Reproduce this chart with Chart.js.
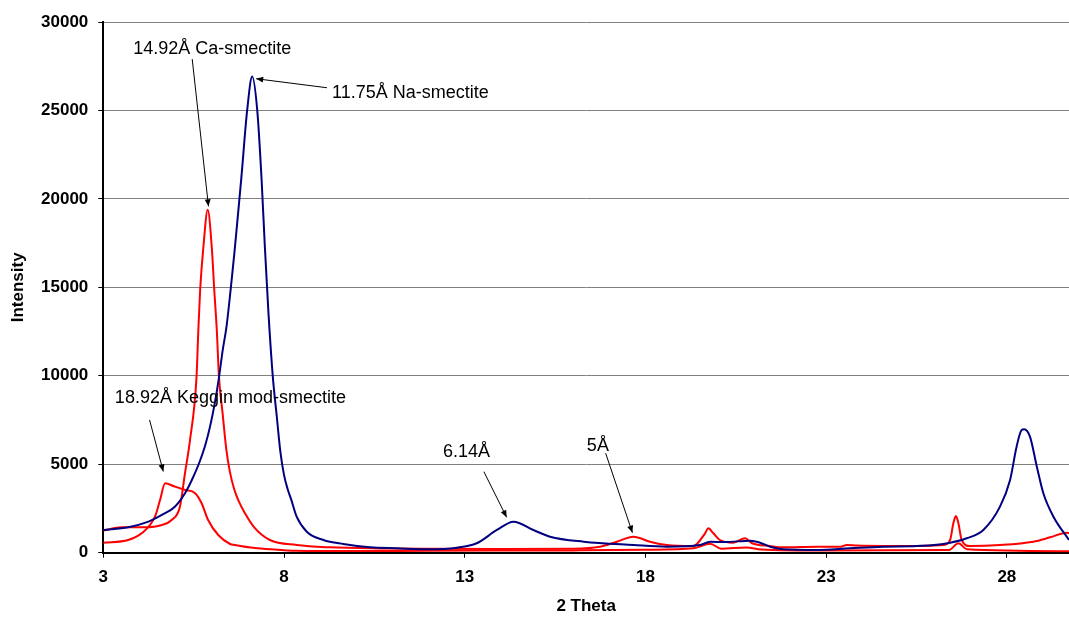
<!DOCTYPE html>
<html>
<head>
<meta charset="utf-8">
<script src="https://cdn.jsdelivr.net/npm/chart.js@4.4.1/dist/chart.umd.min.js"></script>
<style>
  body { margin: 0; background: #fff; }
  #wrap { width: 1069px; height: 617px; position: relative; }
</style>
</head>
<body>
<div id="wrap"><canvas id="xrdChart"></canvas></div>
<script>
// 2 theta ticks and intensity axis
const xTicks = [3, 8, 13, 18, 23, 28];
const yMax = 30000;

// Na-smectite (blue)
const naTheta = [3.0, 3.69, 4.25, 4.62, 4.98, 5.26, 5.45, 5.65, 5.81, 5.95, 6.08, 6.2, 6.3, 6.41, 6.53, 6.63, 6.73, 6.82, 6.98, 7.12, 7.26, 7.38, 7.47, 7.57, 7.69, 7.8, 7.9, 8.0, 8.1, 8.2, 8.35, 8.63, 9.09, 9.64, 10.38, 11.12, 12.04, 12.78, 13.33, 13.89, 14.35, 14.9, 15.36, 16.29, 17.67, 18.59, 19.51, 19.79, 20.2, 20.9, 21.17, 21.45, 21.82, 22.74, 23.66, 24.58, 25.51, 26.24, 26.89, 27.35, 27.81, 28.09, 28.27, 28.41, 28.48, 28.64, 28.83, 29.01, 29.29, 29.72];
const naIntensity = [1284, 1437, 1753, 2132, 2600, 3360, 4112, 5056, 6000, 7100, 8400, 9900, 11400, 12800, 15000, 17000, 19200, 21200, 25000, 26920, 25000, 21080, 17300, 13540, 9955, 7700, 5700, 4400, 3600, 3000, 2036, 1188, 718, 492, 305, 249, 192, 283, 532, 1284, 1753, 1284, 905, 622, 435, 340, 435, 622, 600, 680, 566, 340, 192, 153, 249, 340, 379, 492, 815, 1284, 2602, 4112, 5995, 6940, 6980, 6561, 4864, 3360, 2036, 718];

// Ca-smectite (red)
const caTheta = [3.0, 3.51, 4.15, 4.62, 4.89, 5.12, 5.26, 5.4, 5.58, 5.63, 5.68, 5.77, 5.89, 6.0, 6.07, 6.14, 6.2, 6.3, 6.4, 6.5, 6.62, 6.75, 6.9, 7.17, 7.61, 8.35, 9.27, 10.66, 12.0, 14.0, 16.0, 16.74, 17.21, 17.67, 18.13, 18.59, 19.33, 19.65, 19.74, 19.88, 20.06, 20.43, 20.76, 20.95, 21.45, 21.82, 22.74, 23.4, 23.57, 23.85, 24.58, 25.51, 26.24, 26.43, 26.52, 26.59, 26.66, 26.75, 26.98, 27.81, 28.73, 29.2, 29.66, 29.72];
const caIntensity = [1250, 1437, 1437, 1567, 1850, 2600, 4490, 6374, 9955, 12600, 14860, 17300, 19383, 17300, 14860, 12600, 9955, 7900, 5900, 4600, 3600, 2900, 2300, 1450, 718, 435, 305, 240, 220, 215, 230, 340, 622, 905, 622, 435, 380, 1097, 1380, 1097, 718, 566, 815, 532, 379, 305, 340, 340, 435, 400, 379, 379, 435, 718, 1663, 2076, 1663, 718, 379, 435, 622, 870, 1131, 1100];

// Keggin modified smectite (red)
const kegTheta = [3.0, 3.69, 4.06, 4.43, 4.57, 4.71, 4.98, 5.26, 5.54, 5.72, 5.9, 6.18, 6.51, 6.64, 7.2, 7.43, 8.35, 9.9, 12.0, 16.0, 18.0, 19.33, 19.79, 20.1, 20.8, 21.2, 23.0, 26.4, 26.66, 26.9, 29.72];
const kegIntensity = [566, 718, 1097, 2036, 2980, 3925, 3733, 3546, 3360, 2794, 1850, 1000, 492, 435, 260, 230, 113, 90, 110, 130, 160, 250, 500, 230, 300, 180, 120, 150, 530, 190, 80];

// peak labels with arrows (data coordinates)
const notes = [
  { text: "14.92Å Ca-smectite", x: 3.83, y: 28190, from: [5.46, 27907], to: [5.91, 19581] },
  { text: "11.75Å Na-smectite", x: 9.33, y: 25690, from: [9.19, 26283], to: [7.23, 26793] },
  { text: "18.92Å Keggin mod-smectite", x: 3.32, y: 8450, from: [4.28, 7505], to: [4.66, 4593] },
  { text: "6.14Å", x: 12.4, y: 5396, from: [13.53, 4581], to: [14.16, 2002] },
  { text: "5Å", x: 16.38, y: 5769, from: [16.9, 5622], to: [17.64, 1131] }
];

const fontFamily = "'Liberation Sans', Arial, sans-serif";

function toPoints(xs, ys) {
  return xs.map((x, i) => ({ x: x, y: ys[i] }));
}

const notesPlugin = {
  id: "notes",
  afterDatasetsDraw(chart) {
    const ctx = chart.ctx;
    const xs = chart.scales.x;
    const ys = chart.scales.y;
    ctx.save();
    ctx.fillStyle = "#000";
    ctx.strokeStyle = "#000";
    ctx.lineWidth = 1;
    ctx.font = "18px " + fontFamily;
    ctx.textBaseline = "alphabetic";
    ctx.textAlign = "left";
    notes.forEach(n => {
      ctx.fillText(n.text, xs.getPixelForValue(n.x), ys.getPixelForValue(n.y));
      const x1 = xs.getPixelForValue(n.from[0]);
      const y1 = ys.getPixelForValue(n.from[1]);
      const x2 = xs.getPixelForValue(n.to[0]);
      const y2 = ys.getPixelForValue(n.to[1]);
      ctx.beginPath();
      ctx.moveTo(x1, y1);
      ctx.lineTo(x2, y2);
      ctx.stroke();
      // arrow head
      const ang = Math.atan2(y2 - y1, x2 - x1);
      ctx.beginPath();
      ctx.moveTo(x2, y2);
      ctx.lineTo(x2 - 7 * Math.cos(ang) + 3 * Math.sin(ang), y2 - 7 * Math.sin(ang) - 3 * Math.cos(ang));
      ctx.lineTo(x2 - 7 * Math.cos(ang) - 3 * Math.sin(ang), y2 - 7 * Math.sin(ang) + 3 * Math.cos(ang));
      ctx.closePath();
      ctx.fill();
    });
    ctx.restore();
  }
};

const lineStyle = {
  borderWidth: 2,
  pointRadius: 0,
  fill: false,
  cubicInterpolationMode: "monotone"
};

new Chart(document.getElementById("xrdChart"), {
  type: "line",
  data: {
    datasets: [
      Object.assign({ label: "Na-smectite", data: toPoints(naTheta, naIntensity), borderColor: "#000080" }, lineStyle),
      Object.assign({ label: "Ca-smectite", data: toPoints(caTheta, caIntensity), borderColor: "#ff0000" }, lineStyle),
      Object.assign({ label: "Keggin mod-smectite", data: toPoints(kegTheta, kegIntensity), borderColor: "#ff0000" }, lineStyle)
    ]
  },
  options: {
    responsive: true,
    maintainAspectRatio: false,
    animation: false,
    layout: { padding: { top: 22, right: 0, left: 0, bottom: 0 } },
    plugins: {
      legend: { display: false },
      tooltip: { enabled: false }
    },
    scales: {
      x: {
        type: "linear",
        min: 3,
        max: 29.72,
        afterBuildTicks: scale => {
          scale.ticks = xTicks.map(v => ({ value: v }));
        },
        afterFit: scale => { scale.height = 64.3; },
        grid: { drawOnChartArea: false, drawTicks: true, tickLength: 5, tickColor: "#000" },
        border: { color: "#000", width: 2 },
        ticks: { color: "#000", padding: 9, font: { family: fontFamily, size: 17, weight: "bold" }, callback: v => String(v) },
        title: {
          display: true,
          text: "2 Theta",
          color: "#000",
          padding: { top: 0, bottom: 0 },
          font: { family: fontFamily, size: 17, weight: "bold" }
        }
      },
      y: {
        min: 0,
        max: yMax,
        afterFit: scale => { scale.width = 103.3; },
        grid: { color: "#808080", lineWidth: 1, drawTicks: true, tickLength: 5, tickColor: "#000" },
        border: { color: "#000", width: 2 },
        ticks: { stepSize: 5000, color: "#000", padding: 10, font: { family: fontFamily, size: 17, weight: "bold" }, callback: v => String(v) },
        title: {
          display: true,
          text: "Intensity",
          color: "#000",
          padding: { top: 8, bottom: 0 },
          font: { family: fontFamily, size: 17, weight: "bold" }
        }
      }
    }
  },
  plugins: [notesPlugin]
});
</script>
</body>
</html>
